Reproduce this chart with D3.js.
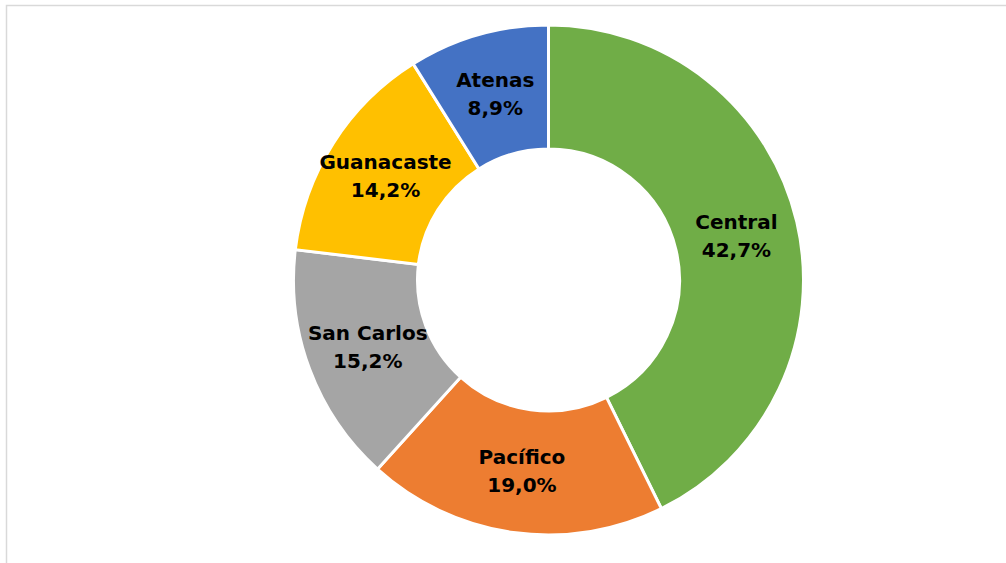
<!DOCTYPE html>
<html>
<head>
<meta charset="utf-8">
<script src="https://cdn.jsdelivr.net/npm/d3@7"></script>
<style>
  body { margin: 0; background: #fff; }
  .sliceLabel { font-family: "DejaVu Sans", sans-serif; font-weight: bold; font-size: 20px; fill: #000; }
</style>
</head>
<body>
<div id="chart"></div>
<script>
var svgWidth = 1006;
var svgHeight = 563;

// data
var regions = ["Central", "Pacífico", "San Carlos", "Guanacaste", "Atenas"];
var shares = [42.7, 19.0, 15.2, 14.2, 8.9];
var sliceColors = ["#70AD47", "#ED7D31", "#A5A5A5", "#FFC000", "#4472C4"];

var cx = 548.5, cy = 280;
var outerR = 255, innerR = 131;

var svg = d3.select("#chart")
    .append("svg")
    .attr("width", svgWidth)
    .attr("height", svgHeight);

/// frame (only top and left edges visible)
svg.append("path")
    .attr("d", "M6.5,563 L6.5,5.5 L1006,5.5")
    .attr("fill", "none")
    .attr("stroke", "#d9d9d9")
    .attr("stroke-width", 1.5);

var data = regions.map((r, i) => ({ name: r, value: shares[i], color: sliceColors[i] }));

var pie = d3.pie()
    .value(d => d.value)
    .sort(null);

var arc = d3.arc()
    .innerRadius(innerR)
    .outerRadius(outerR);

var g = svg.append("g")
    .attr("transform", `translate(${cx}, ${cy})`);

var slices = g.selectAll("g.slice")
    .data(pie(data))
    .enter()
    .append("g")
    .attr("class", "slice");

slices.append("path")
    .attr("d", arc)
    .attr("fill", d => d.data.color)
    .attr("stroke", "#fff")
    .attr("stroke-width", 3);

/// labels at arc centroid
var fmt = v => v.toFixed(1).replace(".", ",") + "%";

slices.each(function (d) {
    var c = arc.centroid(d);
    var t = d3.select(this).append("text")
        .attr("class", "sliceLabel")
        .attr("text-anchor", "middle")
        .attr("x", c[0])
        .attr("y", c[1]);
    t.append("tspan")
        .attr("x", c[0])
        .attr("dy", "-0.38em")
        .text(d.data.name);
    t.append("tspan")
        .attr("x", c[0])
        .attr("dy", "1.42em")
        .text(fmt(d.data.value));
});
</script>
</body>
</html>
